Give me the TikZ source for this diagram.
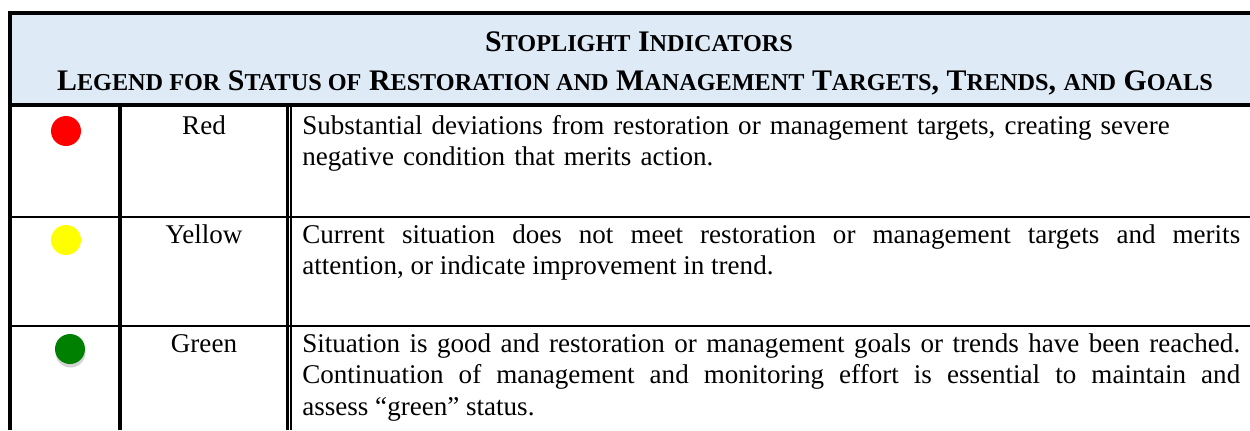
\documentclass[tikz,border=0pt]{standalone}
\usepackage{fontspec}
\setmainfont{Liberation Serif}
\usetikzlibrary{shadows}

\definecolor{headblue}{HTML}{DEEAF6}
\definecolor{lampgreen}{HTML}{008000}
\definecolor{lampyellow}{HTML}{FFFF00}

% small capitals by hand: capital at full size, the rest smaller
\newcommand{\smcap}[1]{{\fontsize{13.8}{16}\selectfont #1}}

\begin{document}
\begin{tikzpicture}[x=0.02cm, y=-0.02cm,
            heavy/.style = {line width=2.2pt},
            rowline/.style = {line width=1pt},
            lamp/.style = {circle, minimum size=0.6cm, inner sep=0pt},
            label/.style = {anchor=base, font=\fontsize{15.4}{18.2}\selectfont},
            desc/.style = {anchor=base west, inner sep=0pt, text width=18.76cm,
                           font=\fontsize{15.4}{18.2}\selectfont}]
    \useasboundingbox (0,0) rectangle (1250,430);
    % header
    \fill[headblue] (10,13) rectangle (1250,105);
    \node[anchor=base, font=\bfseries\fontsize{17}{20}\selectfont] (title) at (639,51)
        {S\smcap{TOPLIGHT} I\smcap{NDICATORS}};
    \node[anchor=base, font=\bfseries\fontsize{17}{20}\selectfont] (subtitle) at (635,90)
        {L\smcap{EGEND FOR} S\smcap{TATUS OF} R\smcap{ESTORATION AND} M\smcap{ANAGEMENT}
         T\smcap{ARGETS}, T\smcap{RENDS}, \smcap{AND} G\smcap{OALS}};
    % frame
    \draw[heavy] (1250,13) -- (10,13) -- (10,430);
    \draw[heavy] (10,105) -- (1250,105);
    \draw[heavy] (120,105) -- (120,430);
    \draw[line width=1.6pt] (287.5,105) -- (287.5,430);
    \draw[line width=0.6pt] (291,105) -- (291,430);
    \draw[rowline] (10,217) -- (1250,217);
    \draw[rowline] (10,326) -- (1250,326);
    % rows
    \node[lamp, fill=red] (redlamp) at (66,131) {};
    \node[label] (redname) at (204,134) {Red};
    \node[desc, align=left] (reddesc) at (302,134)
        {Substantial deviations from restoration or management targets, creating severe\\
         negative condition that merits action.};
    \node[lamp, fill=lampyellow] (yellowlamp) at (66,240) {};
    \node[label] (yellowname) at (204,243) {Yellow};
    \node[desc, align=justify] (yellowdesc) at (302,243)
        {Current situation does not meet restoration or management targets and merits
         \linebreak attention, or indicate improvement in trend.};
    \node[lamp, fill=lampgreen,
          drop shadow={shadow xshift=0.3pt, shadow yshift=-2pt, opacity=0.35}]
          (greenlamp) at (70,349) {};
    \node[label] (greenname) at (204,352) {Green};
    \node[desc, align=justify] (greendesc) at (302,352)
        {Situation is good and restoration or management goals or trends have been reached.
         \linebreak Continuation of management and monitoring effort is essential to maintain and
         \linebreak assess “green” status.};
\end{tikzpicture}
\end{document}
